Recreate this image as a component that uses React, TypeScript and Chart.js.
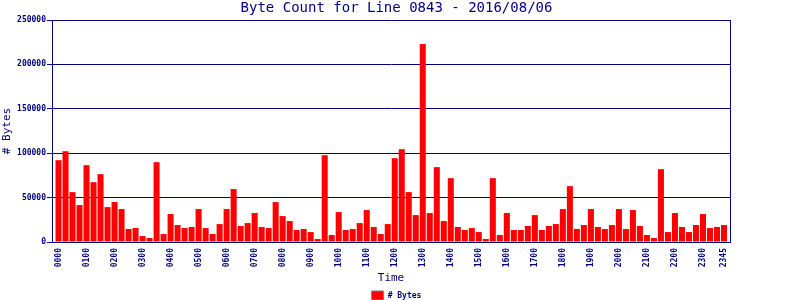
import React, { useEffect, useRef } from "react";
import { Chart, registerables } from "chart.js";

Chart.register(...registerables);

const timeLabels: string[] = [
  "0000","0015","0030","0045","0100","0115","0130","0145",
  "0200","0215","0230","0245","0300","0315","0330","0345",
  "0400","0415","0430","0445","0500","0515","0530","0545",
  "0600","0615","0630","0645","0700","0715","0730","0745",
  "0800","0815","0830","0845","0900","0915","0930","0945",
  "1000","1015","1030","1045","1100","1115","1130","1145",
  "1200","1215","1230","1245","1300","1315","1330","1345",
  "1400","1415","1430","1445","1500","1515","1530","1545",
  "1600","1615","1630","1645","1700","1715","1730","1745",
  "1800","1815","1830","1845","1900","1915","1930","1945",
  "2000","2015","2030","2045","2100","2115","2130","2145",
  "2200","2215","2230","2245","2300","2315","2330","2345",
];

const byteCounts: number[] = [
  92100, 102200, 56200, 41600, 86500, 67400, 76400, 39300,
  45000, 37100, 14600, 15700, 6700, 4500, 89900, 9000,
  31500, 19100, 15700, 16900, 37100, 15700, 9000, 20200,
  37100, 59600, 18000, 21300, 32600, 16900, 15700, 44900,
  29200, 23600, 13500, 14600, 11200, 3400, 97700, 7900,
  33700, 13500, 14600, 21300, 36000, 16900, 9000, 20200,
  94400, 104500, 56200, 30300, 223000, 32600, 84300, 23600,
  71900, 16900, 13500, 15700, 11200, 3400, 71900, 7900,
  32600, 13500, 13500, 18000, 30300, 13500, 18000, 20200,
  37100, 62900, 14600, 19100, 37100, 16900, 14600, 19100,
  37100, 14600, 36000, 18000, 7900, 4500, 82000, 11200,
  32600, 16900, 11200, 19100, 31500, 15700, 16900, 19100,
];

// indices of the time labels that are printed on the axis
const shownTickIndices: number[] = [
  0, 4, 8, 12, 16, 20, 24, 28, 32, 36, 40, 44,
  48, 52, 56, 60, 64, 68, 72, 76, 80, 84, 88, 92, 95,
];

const seriesName = "# Bytes";
const chartTitle = "Byte Count for Line 0843 - 2016/08/06";
const xAxisTitle = "Time";
const yAxisTitle = "# Bytes";
const yMax = 250000;
const yStep = 50000;

const NAVY = "#000080";
const MONO = "'DejaVu Sans Mono', monospace";

const framePlugin = {
  id: "frame",
  afterDatasetsDraw(chart: any) {
    const { ctx, chartArea } = chart;
    ctx.save();
    ctx.strokeStyle = NAVY;
    ctx.lineWidth = 1;
    ctx.beginPath();
    ctx.moveTo(Math.round(chartArea.right) + 0.5, chartArea.top);
    ctx.lineTo(Math.round(chartArea.right) + 0.5, chartArea.bottom);
    ctx.stroke();
    ctx.restore();
  },
};

export default function App() {
  const ref = useRef<HTMLCanvasElement | null>(null);

  useEffect(() => {
    if (!ref.current) return;
    const chart = new Chart(ref.current, {
      type: "bar",
      data: {
        labels: timeLabels,
        datasets: [
          {
            label: seriesName,
            data: byteCounts.map((y, i) => ({ x: i, y })),
            backgroundColor: "#ff0000",
            borderWidth: 0,
            categoryPercentage: 1,
            barPercentage: 0.86,
          },
        ],
      },
      plugins: [framePlugin],
      options: {
        responsive: false,
        animation: false,
        devicePixelRatio: 1,
        layout: { padding: { left: 0, right: 7, top: 0, bottom: -10 } },
        plugins: {
          title: {
            display: true,
            text: chartTitle,
            color: NAVY,
            font: { family: MONO, size: 14, weight: "normal" },
            padding: { top: 0, bottom: 3.2 },
          },
          legend: {
            display: true,
            position: "bottom",
            labels: {
              color: NAVY,
              font: { family: MONO, size: 8, weight: "bold" },
              boxWidth: 12,
              boxHeight: 9,
              padding: 2,
              generateLabels: (c: any) =>
                c.data.datasets.map((ds: any, i: number) => ({
                  text: ds.label,
                  fillStyle: "#ff0000",
                  strokeStyle: "#808080",
                  lineWidth: 1,
                  fontColor: NAVY,
                  hidden: false,
                  datasetIndex: i,
                })),
            },
          },
          tooltip: { enabled: false },
        },
        scales: {
          x: {
            type: "linear",
            min: -0.93,
            max: 95.86,
            offset: false,
            grid: { display: false, drawTicks: false },
            border: { display: true, color: NAVY, width: 1 },
            afterBuildTicks: (scale: any) => {
              scale.ticks = shownTickIndices.map((v) => ({ value: v }));
            },
            ticks: {
              autoSkip: false,
              maxRotation: 90,
              minRotation: 90,
              padding: 6,
              color: NAVY,
              font: { family: MONO, size: 8, weight: "bold" },
              callback: (value: any) => timeLabels[Math.round(Number(value))] ?? "",
            },
            title: {
              display: true,
              text: xAxisTitle,
              color: NAVY,
              font: { family: MONO, size: 11, weight: "normal" },
              padding: { top: 0, bottom: 4 },
            },
            afterFit: (scale: any) => {
              scale.height = 47;
            },
          },
          y: {
            min: 0,
            max: yMax,
            grid: {
              display: true,
              color: NAVY,
              lineWidth: 1,
              drawTicks: true,
              tickLength: 5,
            },
            border: { display: true, color: NAVY, width: 1 },
            ticks: {
              stepSize: yStep,
              padding: 1,
              color: NAVY,
              font: { family: MONO, size: 8, weight: "bold" },
              callback: (v: any) => String(v),
            },
            title: {
              display: true,
              text: yAxisTitle,
              color: NAVY,
              font: { family: MONO, size: 11, weight: "normal" },
              padding: { top: 1, bottom: 0 },
            },
            afterFit: (scale: any) => {
              scale.width = 52;
            },
          },
          yRight: {
            type: "linear",
            position: "right",
            min: 0,
            max: yMax,
            grid: { display: false, drawTicks: false },
            border: { display: false },
            ticks: { display: false },
            afterFit: (scale: any) => {
              scale.width = 63;
            },
          },
        },
      },
    });
    return () => chart.destroy();
  }, []);

  return (
    <div style={{ position: "absolute", left: 0, top: 0, width: 800, height: 300 }}>
      <canvas ref={ref} width={800} height={300} />
    </div>
  );
}
